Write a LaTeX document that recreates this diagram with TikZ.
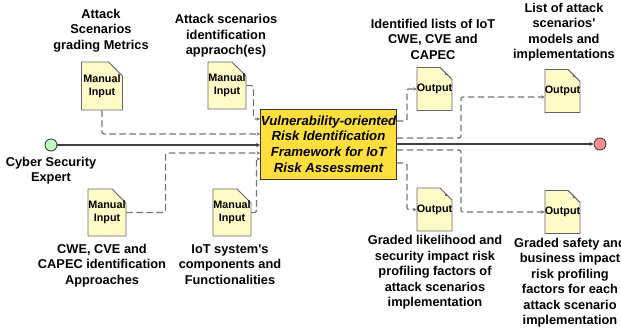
\documentclass[tikz,border=0pt]{standalone}
\usepackage{fontspec}
\setmainfont{Liberation Sans}
\usetikzlibrary{arrows.meta, shapes.misc}

\definecolor{docfill}{HTML}{FFFBC7}
\definecolor{docedge}{HTML}{5F6670}
\definecolor{mainfill}{HTML}{FFDF3C}
\definecolor{flowgray}{HTML}{70757C}

\begin{document}
\begin{tikzpicture}[
    x=1pt, y=-1pt,
    lbl/.style = {
      align=center, inner sep=0pt,
      font=\fontsize{12.8}{15.5}\selectfont\bfseries
    },
    doc/.style = {
      chamfered rectangle, chamfered rectangle corners=north east,
      chamfered rectangle xsep=7pt, chamfered rectangle ysep=7pt,
      draw=docedge, line width=0.9pt, fill=docfill,
      inner xsep=-7pt, inner ysep=0pt, align=center,
      font=\fontsize{10.8}{12.6}\selectfont\bfseries,
      path picture={
        \draw [draw=docedge, line width=0.7pt]
          ([xshift=-7pt]path picture bounding box.north east) |-
          ([yshift=-7pt]path picture bounding box.north east);
      }
    },
    input/.style  = {doc, minimum width=38pt, minimum height=47pt},
    output/.style = {doc, minimum width=35pt, minimum height=43pt},
    main/.style = {
      draw=black!80, line width=0.9pt, fill=mainfill, inner sep=0pt,
      minimum width=136pt, minimum height=70pt, align=center,
      font=\fontsize{13.2}{15.6}\selectfont\bfseries\itshape
    },
    flow/.style = {
      draw=flowgray, line width=1.2pt, rounded corners=2pt,
      dash pattern=on 6.5pt off 3.5pt, -{Stealth[length=3.5pt, width=3.5pt]}
    },
    ctrl/.style = {draw=black!75, line width=1.1pt, -{Stealth[length=4pt, width=4pt]}},
    startdot/.style = {circle, draw=black!75, line width=0.9pt, fill=green!25!white, minimum size=12pt, inner sep=0pt},
    enddot/.style = {circle, draw=black!75, line width=0.9pt, fill=red!45!white, minimum size=12pt, inner sep=0pt}
  ]
  \useasboundingbox (0,0) rectangle (621,329);

  % framework box and end points
  \node (frame) [main] at (328.5,144) {Vulnerability-oriented\\ Risk Identification\\ Framework for IoT\\ Risk Assessment};
  \node (start) [startdot] at (51,145) {};
  \node (stop) [enddot] at (600,144) {};

  % inputs
  \node (grading) [input, minimum width=41pt, minimum height=48pt] at (102,86) {Manual\\ Input};
  \node (scen) [input] at (227,85.5) {Manual\\ Input};
  \node (cwe) [input] at (107,212.5) {Manual\\ Input};
  \node (iot) [input] at (232,212.5) {Manual\\ Input};

  % outputs
  \node (lists) [output] at (434.5,89) {Output};
  \node (models) [output] at (562.5,91) {Output};
  \node (likeli) [output] at (434.5,209.5) {Output};
  \node (safety) [output] at (562.5,212) {Output};

  % labels
  \node (gradingL) [lbl] at (101,30.5) {Attack\\ Scenarios\\ grading Metrics};
  \node (scenL) [lbl] at (226,36) {Attack scenarios\\ identification\\ appraoch(es)};
  \node (listsL) [lbl] at (433,39) {Identified lists of IoT\\ CWE, CVE and\\ CAPEC};
  \node (modelsL) [lbl] at (564,32) {List of attack\\ scenarios\textquotesingle\\ models and\\ implementations};
  \node (startL) [lbl] at (51,170.5) {Cyber Security\\ Expert};
  \node (cweL) [lbl] at (102,265.5) {CWE, CVE and\\ CAPEC identification\\ Approaches};
  \node (iotL) [lbl] at (230,264.5) {IoT system\textquotesingle s\\ components and\\ Functionalities};
  \node (likeliL) [lbl] at (435,272.5) {Graded likelihood and\\ security impact risk\\ profiling factors of\\ attack scenarios\\ implementation};
  \node (safetyL) [lbl] at (570,282.5) {Graded safety and\\ business impact\\ risk profiling\\ factors for each\\ attack scenario\\ implementation};

  % solid line
  \draw [ctrl] (start) -- (frame.west |- start);
  \draw [ctrl] (frame.east |- stop) -- (stop);

  % dashed inputs
  \draw [flow] (grading.south) |- ([yshift=10pt]frame.west);
  \draw [flow] (scen.east) -- ++(7,0) |- ([yshift=25pt]frame.west);
  \draw [flow] (cwe.east) -- ++(39,0) |- ([yshift=-9pt]frame.west);
  \draw [flow] (iot.east) -- ++(5,0) |- ([yshift=-15pt]frame.west);

  % dashed outputs
  \draw [flow] ([yshift=23pt]frame.east) -- ++(10,0) |- (lists.west);
  \draw [flow] ([yshift=6pt]frame.east) -- ++(64,0) |- ([yshift=-6pt]models.west);
  \draw [flow] ([yshift=-6pt]frame.east) -- ++(64,0) |- (safety.west);
  \draw [flow] ([yshift=-19pt]frame.east) -- ++(10,0) |- (likeli.west);
\end{tikzpicture}
\end{document}
